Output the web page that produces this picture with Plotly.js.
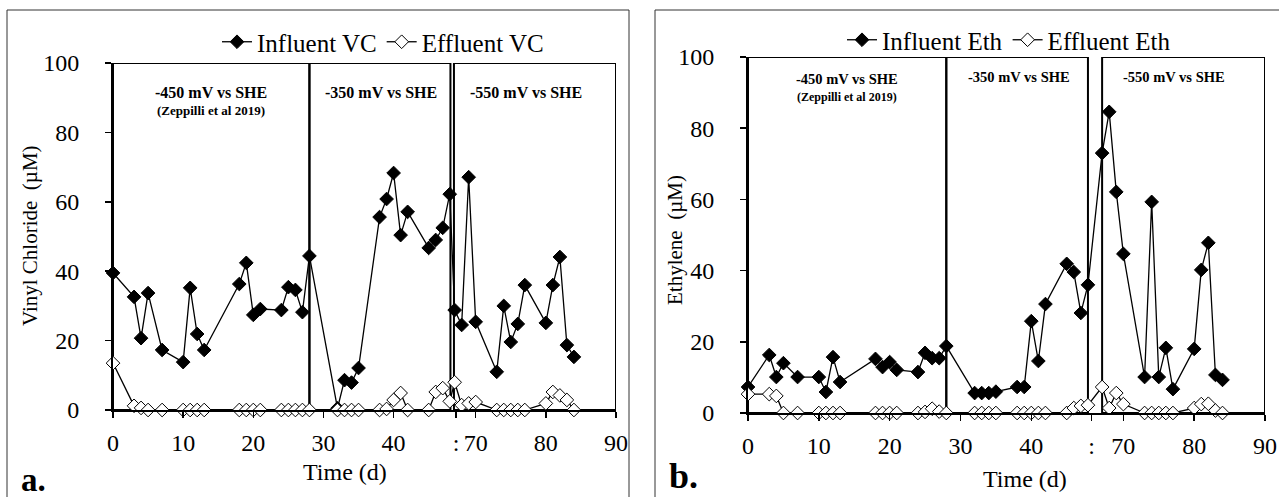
<!DOCTYPE html>
<html>
<head>
<meta charset="utf-8">
<script src="https://cdn.plot.ly/plotly-3.0.1.min.js"></script>
<style>html,body{margin:0;padding:0;background:#fff;}#chart{width:1279px;height:497px;}</style>
</head>
<body>
<div id="chart"></div>
<script>
// ---------- DATA (days of operation, concentrations in µM) ----------
const days = [0,3,4,5,7,10,11,12,13,18,19,20,21,24,25,26,27,28,32,33,34,35,38,39,40,41,42,45,46,47,48,67,68,69,70,73,74,75,76,77,80,81,82,83,84];

const influentVC = [39.5,32.6,20.7,33.7,17.3,13.8,35.2,21.9,17.3,36.3,42.4,27.4,29.1,28.8,35.4,34.6,28.2,44.4,
  0.5,8.6,7.9,12.1, 55.6,60.8,68.3,50.4,57.1, 46.7,49.0,52.5,62.2, 28.8,24.5,67.1,25.4, 11.0,30.0,19.6,24.8,36.0, 25.1,36.0,44.1,18.7,15.3];
const effluentVC = [13.5,1.2,0.6,0,0,0,0,0,0,0,0,0,0,0,0,0,0,0,
  0,0,0,0, 0,0.3,2.9,4.9,0, 0,5.2,6.3,2.5, 8.0,1.4,1.9,2.3, 0,0,0,0,0, 1.9,5.2,4.2,2.9,0];

const influentEth = [7.3,16.3,10.1,14.0,10.1,10.1,5.9,15.7,8.7,15.2,12.9,14.3,12.1,11.5,16.9,15.4,15.4,18.8,
  5.6,5.6,5.6,6.0, 7.3,7.3,25.8,14.6,30.6, 41.9,39.6,28.1,36.0, 73.0,84.6,62.1,44.7, 10.1,59.3,10.1,18.3,6.7, 18.0,40.2,47.8,10.7,9.3];
const effluentEth = [5.3,5.3,4.8,0,0,0,0,0,0,0,0,0,0,0,0.3,1.2,0.4,0,
  0,0,0,0, 0,0,0,0,0, 0,1.4,2.0,2.2, 7.3,1.4,5.6,2.5, 0,0,0,0,0, 1.4,2.5,2.6,0.7,0];

const tickDays = [0,10,20,30,40,70,80,90];
const tickLabels = ['0','10','20','30','40','70','80','90'];

const phaseLabels = ['-450 mV vs SHE','-350 mV vs SHE','-550 mV vs SHE'];
const phaseNote = '(Zeppilli et al 2019)';
const phaseStartA = [0, 28, 66.9], phaseEndA = [28, 48.1, 90];
const phaseStartB = [0, 28, 67.0], phaseEndB = [28, 48.0, 90];
const phaseLabelDay = [14, 38.2, 77.2];

// x-axis break (days removed from the time axis in the original figure)
const breakA = {start: 48.3, shift: 18.3, mark: 48.9};
const breakB = {start: 48.5, shift: 17.0, mark: 48.5};

// ---------- helpers ----------
const FONT = 'Liberation Serif, Times New Roman, serif';
const toAxis = (d, br) => d > br.start ? d - br.shift : d;
const mapDays = (arr, br) => arr.map(d => toAxis(d, br));

function lineTrace(y, br, xa, ya, name, filled, legend) {
  return {
    x: mapDays(days, br), y: y, xaxis: xa, yaxis: ya, name: name, legend: legend,
    type: 'scatter', mode: 'lines+markers', cliponaxis: false,
    line: {color: '#000', width: 1.3},
    marker: {symbol: 'diamond', size: 10.5, color: filled ? '#000' : '#fff', line: {color: '#000', width: 1}}
  };
}

const traces = [
  lineTrace(influentVC, breakA, 'x', 'y', 'Influent VC', true, 'legend'),
  lineTrace(effluentVC, breakA, 'x', 'y', 'Effluent VC', false, 'legend'),
  lineTrace(influentEth, breakB, 'x2', 'y2', 'Influent Eth', true, 'legend2'),
  lineTrace(effluentEth, breakB, 'x2', 'y2', 'Effluent Eth', false, 'legend2')
];

function xAxis(br, domain, anchor) {
  return {
    domain: domain, anchor: anchor, range: [0, toAxis(90, br)],
    tickvals: mapDays(tickDays, br).concat([br.mark]), ticktext: tickLabels.concat([':']),
    showline: true, linecolor: '#000', linewidth: 2, ticks: 'outside', ticklen: 6, tickcolor: '#000', tickwidth: 1.5,
    showgrid: false, zeroline: false, ticklabelstandoff: 4,
    tickfont: {family: FONT, size: 24, color: '#000'}
  };
}
function yAxis(domain, anchor) {
  return {
    domain: domain, anchor: anchor, range: [0, 100], tickvals: [0,20,40,60,80,100],
    showline: true, linecolor: '#000', linewidth: 2, ticks: 'outside', ticklen: 6, tickcolor: '#000', tickwidth: 1.5,
    showgrid: false, zeroline: false, ticklabelstandoff: 21,
    tickfont: {family: FONT, size: 24, color: '#000'}
  };
}

const shapes = [];
const annotations = [];
function phases(starts, ends, br, xr, yr, yMain, yNote, sizeMain, sizeNote) {
  for (let i = 0; i < starts.length; i++) {
    shapes.push({type: 'rect', xref: xr, yref: yr, x0: toAxis(starts[i], br), x1: toAxis(ends[i], br), y0: 0, y1: 100,
      line: {color: '#000', width: 2}, fillcolor: 'rgba(0,0,0,0)', layer: 'below'});
    annotations.push({xref: xr, yref: yr, x: toAxis(phaseLabelDay[i], br), y: yMain[i], text: '<b>' + phaseLabels[i] + '</b>',
      showarrow: false, font: {family: FONT, size: sizeMain, color: '#000'}});
  }
  annotations.push({xref: xr, yref: yr, x: toAxis(phaseLabelDay[0], br), y: yNote, text: '<b>' + phaseNote + '</b>',
    showarrow: false, font: {family: FONT, size: sizeNote, color: '#000'}});
}
phases(phaseStartA, phaseEndA, breakA, 'x', 'y', [91.4, 91.4, 91.4], 86.2, 16, 13);
phases(phaseStartB, phaseEndB, breakB, 'x2', 'y2', [93.8, 94.4, 94.4], 88.8, 14.5, 12);

// panel frames
shapes.push({type: 'rect', xref: 'paper', yref: 'paper', x0: 7/1279, x1: 629/1279, y0: -0.02, y1: 1 - 10/497, line: {color: '#333', width: 1}});
shapes.push({type: 'rect', xref: 'paper', yref: 'paper', x0: 655/1279, x1: 1.02, y0: -0.02, y1: 1 - 10/497, line: {color: '#333', width: 1}});

// axis titles and panel letters
const ann = (x, y, text, size, angle, bold) => annotations.push({xref: 'paper', yref: 'paper', x: x/1279, y: 1 - y/497,
  text: bold ? '<b>' + text + '</b>' : text, showarrow: false, textangle: angle || 0,
  font: {family: FONT, size: size, color: '#000'}, xanchor: 'center', yanchor: 'middle'});
ann(30, 236, 'Vinyl Chloride  (µM)', 21, -90);
ann(675, 240, 'Ethylene  (µM)', 21, -90);
ann(345, 472, 'Time (d)', 24);
ann(1025, 479, 'Time (d)', 24);
ann(33, 480, 'a.', 33, 0, true);
ann(683, 476, 'b.', 36, 0, true);

const legendStyle = (x, y) => ({orientation: 'h', x: x, y: y, xanchor: 'center', yanchor: 'middle',
  font: {family: FONT, size: 25, color: '#000'}, bgcolor: 'rgba(0,0,0,0)', itemwidth: 30, tracegroupgap: 0});

const layout = {
  width: 1279, height: 497, margin: {l: 0, r: 0, t: 0, b: 0},
  paper_bgcolor: '#fff', plot_bgcolor: '#fff', showlegend: true,
  legend: legendStyle(383/1279, 1 - 42/497),
  legend2: legendStyle(1009/1279, 1 - 40/497),
  xaxis: xAxis(breakA, [113/1279, 616/1279], 'y'),
  yaxis: yAxis([1 - 410/497, 1 - 63/497], 'x'),
  xaxis2: xAxis(breakB, [748/1279, 1265/1279], 'y2'),
  yaxis2: yAxis([1 - 413/497, 1 - 57/497], 'x2'),
  shapes: shapes, annotations: annotations
};

Plotly.newPlot('chart', traces, layout, {displayModeBar: false, staticPlot: true});
</script>
</body>
</html>
